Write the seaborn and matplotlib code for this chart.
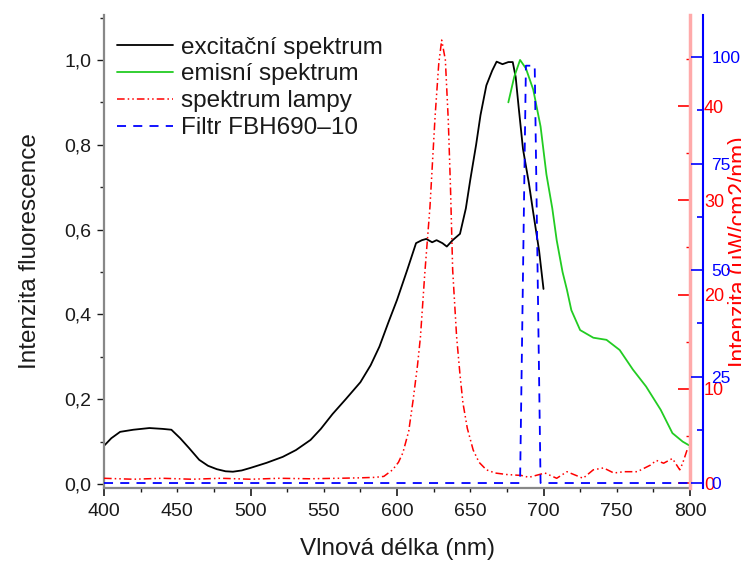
import numpy as np
import pandas as pd
import seaborn as sns
import matplotlib.pyplot as plt
from matplotlib.ticker import MultipleLocator, FuncFormatter

# excitační spektrum (levá osa)
wl_exc = [400, 405, 411, 420, 431, 440, 446, 452, 458, 465, 471, 477, 483, 488, 494,
          500, 511, 522, 531, 541, 548, 556, 565, 575, 582, 588, 594, 600, 607, 613,
          617, 620, 624, 627, 631, 634, 638, 643, 647, 650, 654, 657, 661, 665, 668,
          672, 676, 679, 681, 683, 686, 690, 693, 697, 700]
exc = [0.090, 0.108, 0.123, 0.128, 0.132, 0.130, 0.128, 0.108, 0.085, 0.057, 0.043,
       0.035, 0.030, 0.029, 0.032, 0.038, 0.050, 0.064, 0.080, 0.104, 0.130, 0.165,
       0.200, 0.240, 0.280, 0.324, 0.380, 0.434, 0.505, 0.568, 0.575, 0.578, 0.570,
       0.575, 0.568, 0.560, 0.575, 0.590, 0.650, 0.717, 0.800, 0.870, 0.940, 0.975,
       0.996, 0.990, 0.995, 0.995, 0.960, 0.890, 0.790, 0.710, 0.640, 0.550, 0.460]

# emisní spektrum (levá osa)
wl_em = [676, 680, 684, 688, 693, 698, 702, 706, 709, 713, 716, 719, 725, 734, 743,
         752, 761, 770, 780, 788, 795, 800]
em = [0.90, 0.96, 1.00, 0.98, 0.93, 0.843, 0.73, 0.65, 0.575, 0.50, 0.458, 0.41,
      0.363, 0.345, 0.340, 0.316, 0.270, 0.230, 0.175, 0.120, 0.100, 0.090]

# spektrum lampy (červená osa, uW/cm2/nm)
wl_lamp = [400, 420, 440, 460, 480, 500, 520, 540, 560, 575, 585, 591, 597, 601, 604,
           608, 611, 614, 616, 619, 622.5, 626, 628.5, 630.5, 633, 635, 636.5, 638,
           640.7, 643, 645, 648, 652, 656, 661, 667, 675, 685, 690, 701, 709, 716,
           727, 734, 741, 748, 755, 764, 773, 777, 782, 788, 793, 795, 798, 800]
lamp = [0.5, 0.4, 0.5, 0.4, 0.5, 0.4, 0.5, 0.45, 0.5, 0.55, 0.6, 0.7, 1.4, 2.2, 3.2,
        5.5, 8.8, 12.5, 15.5, 22.3, 29.3, 38.9, 44.5, 47.0, 44.9, 38.5, 31.4, 22.6,
        15.5, 11.5, 8.5, 5.8, 3.5, 2.2, 1.4, 1.06, 0.9, 0.8, 0.6, 1.06, 0.5, 1.2,
        0.5, 1.4, 1.6, 1.06, 1.2, 1.2, 1.9, 2.4, 2.1, 2.6, 1.4, 2.1, 3.5, 3.8]

# Filtr FBH690-10 (modrá osa, %)
wl_filt = [400, 684, 688, 694, 698, 800]
filt = [0, 0, 98, 98, 0, 0]

sns.set_style('ticks')
plt.rcParams['font.family'] = ['Liberation Sans', 'DejaVu Sans']

fig = plt.figure(figsize=(7.41, 5.63), dpi=100)
ax = fig.add_axes([104 / 741, 1 - 488 / 563, 586 / 741, 473 / 563])
ax_r = ax.twinx()
ax_b = ax.twinx()

txt = '#1a1a1a'
df_exc = pd.DataFrame({'wl': wl_exc, 'val': exc})
df_em = pd.DataFrame({'wl': wl_em, 'val': em})
df_lamp = pd.DataFrame({'wl': wl_lamp, 'val': lamp})
df_filt = pd.DataFrame({'wl': wl_filt, 'val': filt})

sns.lineplot(data=df_exc, x='wl', y='val', ax=ax, color='black', linewidth=1.3,
             label='excitační spektrum', legend=False)
sns.lineplot(data=df_em, x='wl', y='val', ax=ax, color='#22cc22', linewidth=1.3,
             label='emisní spektrum', legend=False)
sns.lineplot(data=df_lamp, x='wl', y='val', ax=ax_r, color='red', linewidth=1.1,
             linestyle=(0, (5, 2, 1, 2, 1, 2)), label='spektrum lampy', legend=False)
sns.lineplot(data=df_filt, x='wl', y='val', ax=ax_b, color='blue', linewidth=1.3,
             linestyle=(0, (5, 4)), label='Filtr FBH690–10', legend=False)

# levá osa
ax.set_xlim(400, 800)
ax.set_ylim(-0.0094, 1.106)
ax.xaxis.set_major_locator(MultipleLocator(100))
ax.xaxis.set_minor_locator(MultipleLocator(25))
ax.xaxis.set_minor_formatter(FuncFormatter(lambda x, _: f'{x:.0f}' if x % 100 == 50 else ''))
ax.yaxis.set_major_locator(MultipleLocator(0.2))
ax.yaxis.set_minor_locator(MultipleLocator(0.1))
ax.yaxis.set_major_formatter(FuncFormatter(lambda y, _: f'{y:.1f}'.replace('.', ',')))
ax.tick_params(axis='x', which='major', direction='out', length=6, width=1.2,
               labelsize=14, pad=5, colors=txt)
ax.tick_params(axis='x', which='minor', direction='out', length=3, width=1,
               labelsize=14, pad=8, colors=txt)
ax.tick_params(axis='y', which='major', direction='out', length=5, width=1,
               labelsize=14, pad=4, colors=txt)
ax.tick_params(axis='y', which='minor', direction='out', length=3, width=1)
ax.set_xlabel('Vlnová délka (nm)', fontsize=17.5, color=txt)
ax.set_ylabel('Intenzita fluorescence', fontsize=17.5, color=txt)
ax.xaxis.set_label_coords(0.5, -0.106)
ax.yaxis.set_label_coords(-0.107, 0.5)
for s in ['top', 'right']:
    ax.spines[s].set_visible(False)
for s in ['left', 'bottom']:
    ax.spines[s].set_color('#888888')
    ax.spines[s].set_linewidth(1.6)

# červená osa
ax_r.set_ylim(-0.53, 49.66)
ax_r.yaxis.set_major_locator(MultipleLocator(10))
ax_r.yaxis.set_minor_locator(MultipleLocator(5))
ax_r.tick_params(axis='y', which='major', direction='in', length=9, width=1.2,
                 color='red', labelcolor='red', labelsize=13, pad=10)
ax_r.tick_params(axis='y', which='minor', direction='in', length=3, width=1, color='red')
ax_r.set_ylabel('Intenzita (µW/cm2/nm)', fontsize=16.5, color='red')
ax_r.yaxis.set_label_coords(1.064, 0.5)
for s in ['top', 'left', 'bottom']:
    ax_r.spines[s].set_visible(False)
ax_r.spines['right'].set_color('#ffaaaa')
ax_r.spines['right'].set_linewidth(2.5)

# modrá osa
ax_b.set_ylim(-1.17, 109.9)
ax_b.spines['right'].set_position(('outward', 9.5))
ax_b.yaxis.set_major_locator(MultipleLocator(25))
ax_b.yaxis.set_minor_locator(MultipleLocator(12.5))
ax_b.tick_params(axis='y', which='major', direction='in', length=9, width=1.2,
                 color='blue', labelcolor='blue', labelsize=12.5, pad=6)
ax_b.tick_params(axis='y', which='minor', direction='in', length=4, width=1.2, color='blue')
for s in ['top', 'left', 'bottom']:
    ax_b.spines[s].set_visible(False)
ax_b.spines['right'].set_color('blue')
ax_b.spines['right'].set_linewidth(1.5)
ax_b.set_ylabel('')

handles = []
labels = []
for a in [ax, ax_r, ax_b]:
    h, l = a.get_legend_handles_labels()
    handles += h
    labels += l
leg = ax_b.legend(handles, labels, loc='upper left', bbox_to_anchor=(0.005, 0.975),
                  frameon=False, fontsize=17.5, handlelength=2.3, handletextpad=0.33,
                  labelspacing=0.2, borderaxespad=0.0)
for t in leg.get_texts():
    t.set_color(txt)

plt.savefig('out.png', dpi=100)
